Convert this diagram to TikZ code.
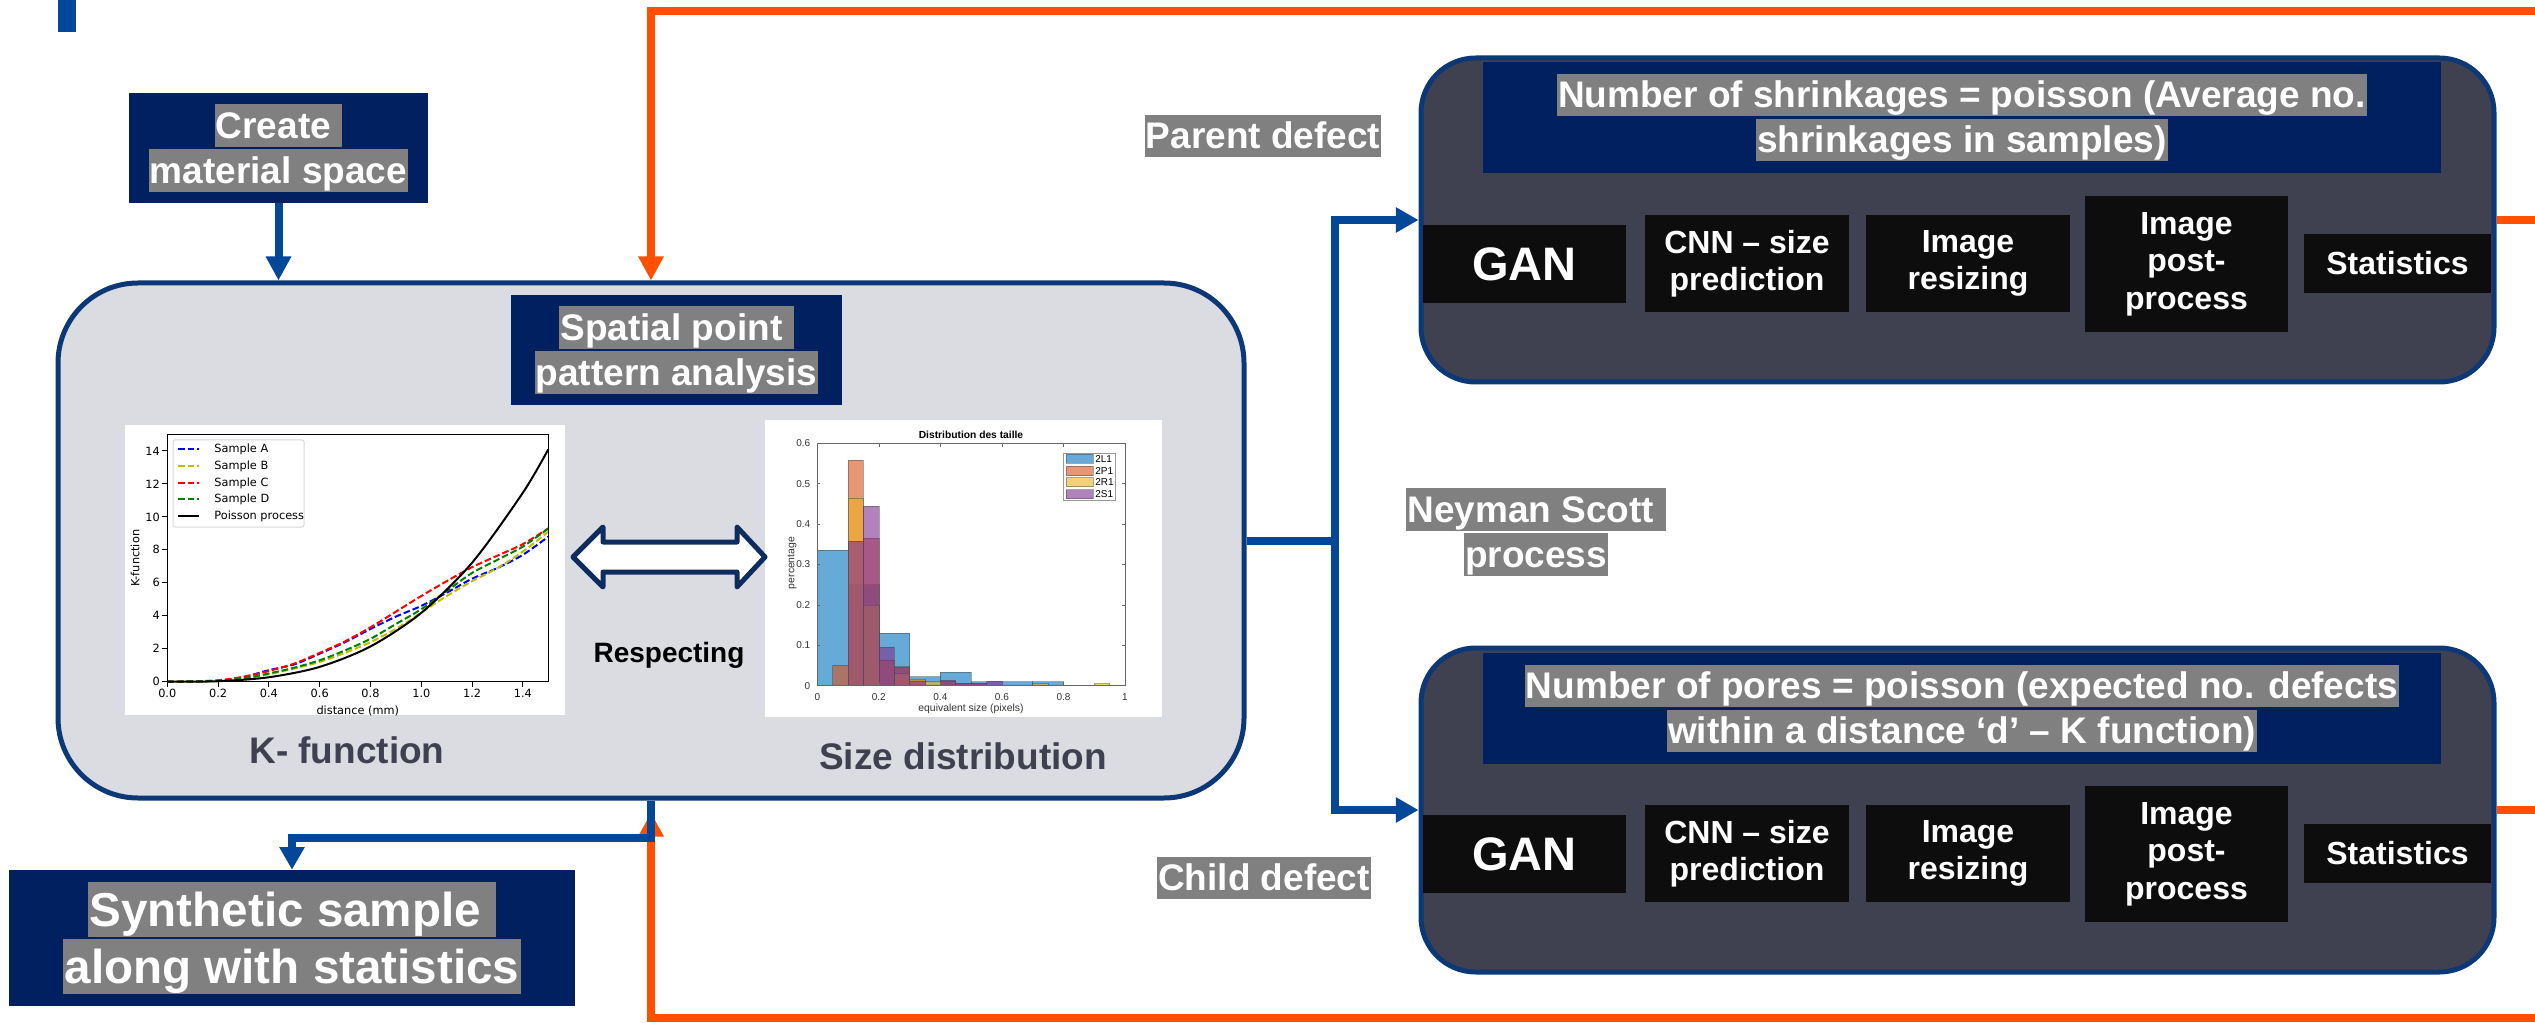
\documentclass[tikz,border=0pt]{standalone}
\usepackage{fontspec}
\setmainfont{Liberation Sans}
\newfontfamily\plotfont{DejaVu Sans}
\usetikzlibrary{arrows.meta}

\definecolor{navyfill}{RGB}{0,32,96}
\definecolor{boxnavy}{RGB}{12,56,120}
\definecolor{arrownavy}{RGB}{14,45,94}
\definecolor{flowblue}{RGB}{3,72,152}
\definecolor{loopred}{RGB}{255,80,0}
\definecolor{hlgray}{RGB}{128,128,128}
\definecolor{panelgray}{RGB}{218,220,226}
\definecolor{slate}{RGB}{63,65,80}
\definecolor{blockblack}{RGB}{13,13,13}
\definecolor{mlblue}{RGB}{0,114,189}
\definecolor{mlorange}{RGB}{217,83,25}
\definecolor{mlyellow}{RGB}{237,177,32}
\definecolor{mlpurple}{RGB}{126,47,142}
\definecolor{pyyellow}{RGB}{191,191,0}
\definecolor{pygreen}{RGB}{0,128,0}

\newcommand{\hlt}[1]{{\setlength{\fboxsep}{0pt}\colorbox{hlgray}{\rule[-0.22em]{0pt}{1.14em}\kern0.03em#1\kern0.03em}}}
\newcommand{\tagfont}{\fontsize{27.75}{33.75}\selectfont\bfseries}
\newcommand{\bigtagfont}{\fontsize{35.7}{42.75}\selectfont\bfseries}
\newcommand{\blockfont}{\fontsize{24}{28.1}\selectfont\bfseries}

\tikzset{
  tagbox/.style={fill=navyfill, inner sep=0pt, text=white, align=center, font=\tagfont},
  tagtext/.style={inner sep=0pt, text=white, align=center, font=\tagfont},
  stage/.style={fill=slate, draw=boxnavy, line width=3.75pt, rounded corners=41pt, inner sep=0pt, minimum width=804.75pt, minimum height=243pt},
  stepblock/.style={fill=blockblack, text=white, inner sep=0pt, align=center, font=\blockfont},
  flowline/.style={draw=flowblue, line width=6pt},
  flow/.style={flowline, -{Triangle[length=17pt,width=18pt]}},
  feedback/.style={draw=loopred, line width=6pt},
  plotcaption/.style={inner sep=0pt, text=slate, font=\tagfont},
  kcurve/.style={line width=1.5pt, dash pattern=on 5pt off 2.2pt},
  histbar/.style={fill=#1, fill opacity=0.6, draw=black!70, draw opacity=0.5, line width=0.5pt},
}

\begin{document}
\begin{tikzpicture}[x=0.75pt,y=0.75pt,yscale=-1,xscale=1]
\useasboundingbox (0,0) rectangle (2535,1023);

% Corner mark
\fill[flowblue] (58,0) rectangle (76,32);

% Main panel
\node[draw=boxnavy, fill=panelgray, line width=3.75pt, rounded corners=60pt, minimum width=889.5pt, minimum height=386.25pt, inner sep=0pt] (main) at (651,540.5) {};
% Text Node
\node[tagbox, minimum width=224.25pt, minimum height=82.5pt] (create) at (278.5,148) {\hlt{Create\ }\\\hlt{material space}};
% Text Node
\node[tagbox, minimum width=248.25pt, minimum height=82.5pt] (spp) at (676.5,350) {\hlt{Spatial point\ }\\\hlt{pattern analysis}};
% Text Node
\node[tagbox, font=\bigtagfont, minimum width=424.5pt, minimum height=102pt] (synth) at (292,938) {\hlt{Synthetic sample\ }\\\hlt{along with statistics}};

% K-function plot
\fill[white] (125,425) rectangle (565,715);
\begin{scope}[shift={(167.3,681.7)}, xscale=254, yscale=-16.48, font=\plotfont\fontsize{8.5}{10}\selectfont]
  \foreach \tk in {0.0,0.2,0.4,0.6,0.8,1.0,1.2,1.4}
    \draw[line width=0.75pt] (\tk,0) -- (\tk,-0.3) node[below, inner sep=1.5pt] {\tk};
  \foreach \tk in {0,2,...,14}
    \draw[line width=0.75pt] (0,\tk) -- (-0.02,\tk) node[left, inner sep=1.5pt] {\tk};
  \node[inner sep=0pt] (kxlabel) at (0.75,-1.75) {distance (mm)};
  \node[rotate=90, inner sep=0pt] (kylabel) at (-0.127,7.5) {K-function};
  \draw[kcurve, blue] plot[smooth] coordinates {(0,0) (0.2,0.07) (0.3,0.28) (0.4,0.7) (0.5,1.05) (0.6,1.7) (0.7,2.4) (0.8,3.2) (0.9,3.95) (1.0,4.6) (1.1,5.4) (1.2,6.25) (1.3,6.9) (1.4,7.7) (1.5,8.8)};
  \draw[kcurve, pyyellow] plot[smooth] coordinates {(0,0) (0.2,0.04) (0.3,0.18) (0.4,0.45) (0.5,0.8) (0.6,1.2) (0.7,1.75) (0.8,2.4) (0.9,3.2) (1.0,4.2) (1.1,5.2) (1.2,6.1) (1.3,6.9) (1.4,7.9) (1.5,9.1)};
  \draw[kcurve, red] plot[smooth] coordinates {(0,0) (0.1,0.01) (0.2,0.08) (0.3,0.3) (0.4,0.65) (0.5,1.1) (0.6,1.75) (0.7,2.45) (0.8,3.3) (0.9,4.25) (1.0,5.2) (1.1,6.1) (1.2,6.95) (1.3,7.65) (1.4,8.35) (1.5,9.3)};
  \draw[kcurve, pygreen] plot[smooth] coordinates {(0,0) (0.2,0.05) (0.3,0.2) (0.4,0.5) (0.5,0.85) (0.6,1.3) (0.7,1.9) (0.8,2.6) (0.9,3.5) (1.0,4.4) (1.1,5.5) (1.2,6.6) (1.3,7.4) (1.4,8.2) (1.5,9.3)};
  \draw[line width=1.5pt] plot[smooth] coordinates {(0,0) (0.2,0.03) (0.4,0.27) (0.6,0.9) (0.8,2.14) (1.0,4.18) (1.2,7.22) (1.4,11.47) (1.5,14.1)};
  \draw[line width=0.75pt] (0,0) rectangle (1.5,15);
\end{scope}
\draw[draw=black!15, fill=white, rounded corners=1.5pt, line width=0.75pt] (173,440) rectangle (304,527);
\foreach \yy/\c/\lab in {449/blue/Sample A, 466/pyyellow/Sample B, 483/red/Sample C, 499/pygreen/Sample D}
  \draw[kcurve, \c] (178,\yy) -- (199,\yy) node[anchor=west, text=black, xshift=7.5pt, font=\plotfont\fontsize{8.5}{10}\selectfont] {\lab};
\draw[line width=1.5pt] (178,516) -- (199,516) node[anchor=west, xshift=7.5pt, font=\plotfont\fontsize{8.5}{10}\selectfont] {Poisson process};

% Size distribution plot
\fill[white] (765,420) rectangle (1162,717);
\begin{scope}[shift={(817.3,685.7)}, xscale=307.7, yscale=-404, font=\fontsize{7.5}{9}\selectfont, text=black!80]
  \foreach \a/\h in {0/0.335, 0.1/0.25, 0.2/0.13, 0.3/0.022, 0.4/0.033, 0.5/0.01, 0.6/0.01, 0.7/0.01}
    \draw[histbar=mlblue] (\a,0) rectangle ++(0.1,\h);
  \foreach \a/\h in {0.05/0.051, 0.1/0.558, 0.15/0.365, 0.2/0.063, 0.25/0.045, 0.3/0.013, 0.4/0.012, 0.45/0.006, 0.5/0.006}
    \draw[histbar=mlorange] (\a,0) rectangle ++(0.05,\h);
  \foreach \a/\h in {0.1/0.465, 0.15/0.2, 0.25/0.03, 0.3/0.016, 0.35/0.01, 0.7/0.006, 0.9/0.005}
    \draw[histbar=mlyellow] (\a,0) rectangle ++(0.05,\h);
  \foreach \a/\h in {0.1/0.357, 0.15/0.445, 0.2/0.095, 0.25/0.047, 0.3/0.012, 0.4/0.013, 0.45/0.006, 0.5/0.006, 0.55/0.012}
    \draw[histbar=mlpurple] (\a,0) rectangle ++(0.05,\h);
  \foreach \tk/\lab in {0/0, 0.2/0.2, 0.4/0.4, 0.6/0.6, 0.8/0.8, 1/1} {
    \draw[black!60, line width=0.5pt] (\tk,0) -- (\tk,0.008) (\tk,0.6) -- (\tk,0.592);
    \node[anchor=north, inner sep=0pt] at (\tk,-0.018) {\lab};
  }
  \foreach \tk in {0,0.1,0.2,0.3,0.4,0.5,0.6} {
    \draw[black!60, line width=0.5pt] (0,\tk) -- (0.01,\tk) (1,\tk) -- (0.99,\tk);
    \node[anchor=east, inner sep=0pt] at (-0.022,\tk) {\tk};
  }
  \draw[black!60, line width=0.6pt] (0,0) rectangle (1,0.6);
\end{scope}
\node[font=\fontsize{7.7}{9}\selectfont\bfseries, inner sep=0pt] (htitle) at (971,435) {Distribution des taille};
\node[font=\fontsize{7.8}{9}\selectfont, text=black!80, inner sep=0pt] (hxlabel) at (971,709) {equivalent size (pixels)};
\node[font=\fontsize{7.8}{9}\selectfont, text=black!80, rotate=90, inner sep=0pt] (hylabel) at (792,563) {percentage};
\draw[black!40, fill=white, line width=0.5pt] (1063,453) rectangle (1115,500);
\foreach \yy/\c/\lab in {459/mlblue/2L1, 471/mlorange/2P1, 482/mlyellow/2R1, 494/mlpurple/2S1} {
  \draw[histbar=\c] (1066,\yy-4.5) rectangle (1093,\yy+4.5);
  \node[anchor=west, inner sep=0pt, font=\fontsize{7.5}{9}\selectfont] at (1095,\yy) {\lab};
}

% Double arrow
\draw[draw=arrownavy, fill=white, line width=3.75pt, line join=round] (573,557) -- (603,527) -- (603,542) -- (737,542) -- (737,527) -- (765,557) -- (737,587) -- (737,572) -- (603,572) -- (603,587) -- cycle;
% Text Node
\node[font=\fontsize{21}{25}\selectfont\bfseries, inner sep=0pt] (respect) at (669,655) {Respecting};
% Text Node
\node[plotcaption] (kcap) at (347,750) {K- function};
% Text Node
\node[plotcaption] (scap) at (963,756) {Size distribution};

% Parent branch
\node[stage] (shrink) at (1957.5,220) {};
\node[tagbox, minimum width=718.5pt, minimum height=83.25pt] (shrinktitle) at (1962,117.5) {\hlt{Number of shrinkages = poisson (Average no.}\\\hlt{shrinkages in samples)}};
\node[stepblock, minimum width=152.25pt, minimum height=58.5pt, font=\fontsize{35.25}{40}\selectfont\bfseries] (gan1) at (1524.5,264) {GAN};
\node[stepblock, minimum width=153pt, minimum height=72.75pt] (cnn1) at (1747,263.5) {CNN – size\\prediction};
\node[stepblock, minimum width=153pt, minimum height=72.75pt] (resize1) at (1968,263.5) {Image\\resizing};
\node[stepblock, minimum width=152.25pt, minimum height=102pt] (post1) at (2186.5,264) {Image\\post-\\process};
\node[stepblock, minimum width=140.25pt, minimum height=44.25pt] (stats1) at (2397.5,263.5) {Statistics};

% Child branch
\node[stage] (pores) at (1957.5,810) {};
\node[tagbox, minimum width=718.5pt, minimum height=83.25pt] (porestitle) at (1962,708.5) {\hlt{Number of pores = poisson (expected no. defects}\\\hlt{within a distance ‘d’ – K function)}};
\node[stepblock, minimum width=152.25pt, minimum height=58.5pt, font=\fontsize{35.25}{40}\selectfont\bfseries] (gan2) at (1524.5,854) {GAN};
\node[stepblock, minimum width=153pt, minimum height=72.75pt] (cnn2) at (1747,853.5) {CNN – size\\prediction};
\node[stepblock, minimum width=153pt, minimum height=72.75pt] (resize2) at (1968,853.5) {Image\\resizing};
\node[stepblock, minimum width=152.25pt, minimum height=102pt] (post2) at (2186.5,854) {Image\\post-\\process};
\node[stepblock, minimum width=140.25pt, minimum height=44.25pt] (stats2) at (2397.5,853.5) {Statistics};

% Text Node
\node[tagtext] (parent) at (1263,136) {\hlt{Parent defect}};
% Text Node
\node[tagtext] (neyman) at (1536,532) {\hlt{Neyman Scott\ }\\\hlt{process}};
% Text Node
\node[tagtext] (child) at (1264,878) {\hlt{Child defect}};

% Connection
\coordinate (outtop) at (2535,11);
\coordinate (outbot) at (2535,1018);
\draw[feedback, -{Triangle[length=18pt,width=18pt]}] (outtop) -| (main.north);
\draw[feedback, -{Triangle[length=18pt,width=18pt]}, shorten >=9pt] (outbot) -| (main.south);
\draw[feedback] (shrink.east) -- (shrink.east -| outtop);
\draw[feedback] (pores.east) -- (pores.east -| outtop);
% Connection
\draw[flow, -{Triangle[length=18pt,width=18pt]}] (create.south) -- (create.south |- main.north);
\draw[flowline] (main.east) -- ++(88,0) coordinate (split);
\draw[flow] (split) |- (shrink.west);
\draw[flow] (split) |- (pores.west);
\draw[flow] (main.south) -- ++(0,37) -| (synth.north);

\end{tikzpicture}
\end{document}
